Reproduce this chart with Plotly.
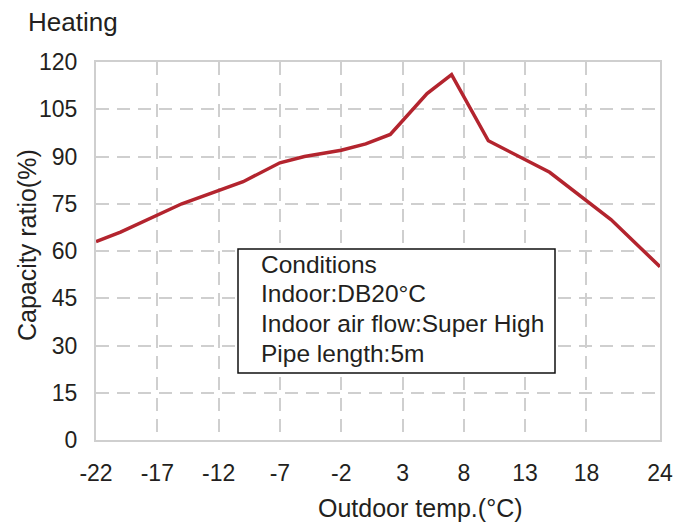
import plotly.graph_objects as go

# Data
outdoor_temp = [-22, -20, -15, -10, -7, -5, -2, 0, 2, 5, 7, 10, 15, 20, 24]
capacity_ratio = [63, 66, 75, 82, 88, 90, 92, 94, 97, 110, 116, 95, 85, 70, 55]

x_tickvals = [-22, -17, -12, -7, -2, 3, 8, 13, 18, 24]
y_tickvals = [0, 15, 30, 45, 60, 75, 90, 105, 120]

conditions = ["Conditions", "Indoor:DB20°C", "Indoor air flow:Super High", "Pipe length:5m"]

FONT = "Liberation Sans, Arial, sans-serif"
TXT = "#231f20"
GRID = "#cfcfcf"

# plot area in the reference: x 96..660, y 62..440 (page body adds 8px offset)
PL, PT, PW, PH = 96, 62, 564, 378
OFF = 8

def px(x):
    return (x - PL) / PW

def py(y):
    return (PT + PH - y) / PH

fig = go.Figure()
fig.add_trace(go.Scatter(
    x=outdoor_temp, y=capacity_ratio, mode="lines",
    line=dict(color="#b3242e", width=3.5), showlegend=False,
))

fig.update_layout(
    width=688, height=528,
    margin=dict(l=PL - OFF, r=688 - (PL - OFF) - PW, t=PT - OFF, b=528 - (PT - OFF) - PH),
    paper_bgcolor="white", plot_bgcolor="white",
    font=dict(family=FONT, color=TXT, size=23),
    xaxis=dict(
        range=[-22, 24], tickmode="array", tickvals=x_tickvals,
        ticktext=[str(v) for v in x_tickvals],
        showgrid=True, gridcolor=GRID, griddash="13px,8px", gridwidth=2,
        showline=True, linecolor=GRID, linewidth=2, mirror=True,
        zeroline=False, ticks="", ticklabelstandoff=11,
        tickfont=dict(size=23, family=FONT, color=TXT),
    ),
    yaxis=dict(
        range=[0, 120], tickmode="array", tickvals=y_tickvals,
        ticktext=[str(v) for v in y_tickvals],
        showgrid=True, gridcolor=GRID, griddash="13px,8px", gridwidth=2,
        showline=True, linecolor=GRID, linewidth=2, mirror=True,
        zeroline=False, ticks="", ticklabelstandoff=12,
        tickfont=dict(size=23, family=FONT, color=TXT),
    ),
)

# Conditions box
fig.add_shape(type="rect", xref="paper", yref="paper",
              x0=px(238), x1=px(555), y0=py(373), y1=py(249),
              line=dict(color="#111111", width=1.5), fillcolor="white", layer="above")
for i, line in enumerate(conditions):
    fig.add_annotation(xref="paper", yref="paper", x=px(259), y=py(264 + 29.7 * i),
                       xanchor="left", yanchor="middle", align="left", showarrow=False,
                       text=line, font=dict(size=24.5, family=FONT, color=TXT))

# Titles
fig.add_annotation(xref="paper", yref="paper", x=px(26), y=py(22),
                   xanchor="left", yanchor="middle", showarrow=False,
                   text="Heating", font=dict(size=26, family=FONT, color=TXT))
fig.add_annotation(xref="paper", yref="paper", x=px(27), y=py(245),
                   xanchor="center", yanchor="middle", showarrow=False, textangle=-90,
                   text="Capacity ratio(%)", font=dict(size=25, family=FONT, color=TXT))
fig.add_annotation(xref="paper", yref="paper", x=px(420), y=py(508),
                   xanchor="center", yanchor="middle", showarrow=False,
                   text="Outdoor temp.(°C)", font=dict(size=25, family=FONT, color=TXT))

fig.write_html("out.html")
